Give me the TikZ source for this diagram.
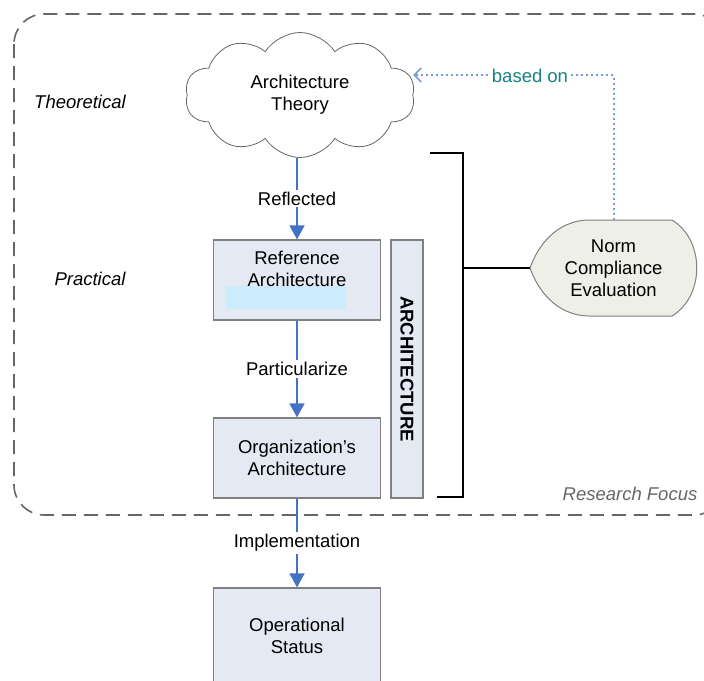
\documentclass[tikz,border=0pt]{standalone}
\usepackage{fontspec}
\setmainfont{Liberation Sans}
\usetikzlibrary{shapes.symbols,arrows.meta}
\definecolor{boxfill}{HTML}{E4E9F3}
\definecolor{boxline}{HTML}{808080}
\definecolor{flowblue}{HTML}{4472C4}
\definecolor{dotblue}{HTML}{7A9AD6}
\definecolor{basedteal}{HTML}{168282}
\definecolor{normfill}{HTML}{EEF0E7}
\definecolor{innercyan}{HTML}{CCEBFC}

\begin{document}
\begin{tikzpicture}[x=1pt,y=-1pt,
  every node/.style={font=\fontsize{18.5}{22}\selectfont,align=center},
  stage/.style={draw=boxline,fill=boxfill,line width=1.2pt,minimum width=167,minimum height=80,inner sep=0pt},
  flow/.style={draw=flowblue,line width=1.5pt,-{Triangle[length=14pt,width=15pt]}},
  flowlabel/.style={fill=white,inner sep=2pt},
  side/.style={font=\fontsize{18.5}{22}\selectfont\itshape}]
\useasboundingbox (0,0) rectangle (704,680);
\draw[dash pattern=on 14pt off 8pt,draw=black!60,line width=1.6pt,rounded corners=30] (14,14) rectangle (724,515);
\node[cloud,draw=black!60,line width=0.8pt,cloud puffs=10,cloud puff arc=115,aspect=1.9,minimum width=230,minimum height=125,inner sep=0pt] (theory) at (300,95) {Architecture\\Theory};
\node[side] (theo) at (80,102) {Theoretical};
\node[side] (prac) at (90,279) {Practical};
\node[side,text=black!60] (focus) at (630,494) {Research Focus};
\node[stage] (refarch) at (297,280) {};
\fill[innercyan] (226,286) rectangle (346,309);
\node (reftext) at (297,269) {Reference\\Architecture};
\node[stage] (orgarch) at (297,458) {Organization’s\\Architecture};
\node[stage,minimum height=96] (opstat) at (297,636) {Operational\\Status};
\node[stage,minimum width=258,minimum height=32,rotate=-90,font=\fontsize{18.5}{22}\selectfont\bfseries] (archbar) at (407,369) {ARCHITECTURE};
\draw[draw=boxline,fill=normfill,line width=1pt] (590,220) -- (672,220) .. controls (705,240) and (705,296) .. (672,316) -- (590,316) .. controls (555,316) and (537,288) .. (530,268) .. controls (537,248) and (555,220) .. (590,220) -- cycle;
\node[inner sep=0pt,minimum width=167,minimum height=96] (norm) at (613.5,268) {Norm\\Compliance\\Evaluation};
\draw[flow] (theory.south -| refarch.north) -- node[flowlabel] {Reflected} (refarch.north);
\draw[flow] (refarch.south) -- node[flowlabel] {Particularize} (orgarch.north);
\draw[flow] (orgarch.south) -- node[flowlabel] {Implementation} (opstat.north);
\coordinate (brtop) at (430,153);
\coordinate (brbot) at (437,497);
\coordinate (brmid) at (463,268);
\draw[line width=2pt] (brtop) -- (463,153) -- (463,497) -- (brbot);
\draw[line width=2pt] (brmid) -- (norm.west);
\coordinate (basedtip) at (413,75);
\draw[dotblue,line width=2pt,dash pattern=on 2pt off 3pt,-{Straight Barb[length=7pt,width=14pt,line width=1.6pt]}] (norm.north) |- (basedtip);
\node[fill=white,text=basedteal,inner sep=2pt] (basedon) at (530,76) {based on};
\end{tikzpicture}
\end{document}
